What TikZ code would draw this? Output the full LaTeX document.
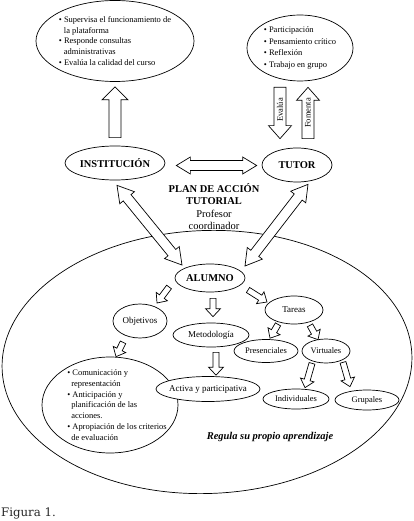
\documentclass[tikz,border=0pt]{standalone}
\usepackage{fontspec}
\setmainfont{Liberation Serif}
\newfontfamily\capfont{DejaVu Serif}
\usetikzlibrary{shapes.geometric,calc,positioning}

\tikzset{
  bubble/.style={ellipse,draw,fill=white,inner xsep=-30bp,inner ysep=-20bp,line width=0.7bp},
  blockarrow/.style={draw,fill=white,line width=0.7bp,line join=miter},
  bigtext/.style={font=\fontsize{10.5}{12.3}\selectfont\bfseries},
  midtext/.style={font=\fontsize{9}{11}\selectfont},
  smalltext/.style={font=\fontsize{8.5}{10.75}\selectfont},
}

% tail, tip, shaft half width, head half width, head length
\newcommand{\fatarrow}[5]{%
  \path (#1) coordinate (fa-tail) (#2) coordinate (fa-tip);
  \path ($(fa-tip)!#5!(fa-tail)$) coordinate (fa-base);
  \draw[blockarrow] ($(fa-tail)!#3!90:(fa-tip)$) -- ($(fa-base)!#3!90:(fa-tip)$)
    -- ($(fa-base)!#4!90:(fa-tip)$) -- (fa-tip) -- ($(fa-base)!#4!-90:(fa-tip)$)
    -- ($(fa-base)!#3!-90:(fa-tip)$) -- ($(fa-tail)!#3!-90:(fa-tip)$) -- cycle;
}
\newcommand{\fatdblarrow}[5]{%
  \path (#1) coordinate (da-a) (#2) coordinate (da-b);
  \path ($(da-a)!#5!(da-b)$) coordinate (da-a2) ($(da-b)!#5!(da-a)$) coordinate (da-b2);
  \draw[blockarrow] (da-a) -- ($(da-a2)!#4!90:(da-b)$) -- ($(da-a2)!#3!90:(da-b)$)
    -- ($(da-b2)!#3!90:(da-b)$) -- ($(da-b2)!#4!90:(da-b)$) -- (da-b)
    -- ($(da-b2)!#4!-90:(da-b)$) -- ($(da-b2)!#3!-90:(da-b)$)
    -- ($(da-a2)!#3!-90:(da-b)$) -- ($(da-a2)!#4!-90:(da-b)$) -- cycle;
}

\begin{document}
\begin{tikzpicture}[x=1bp,y=-1bp]
\useasboundingbox (0,0) rectangle (413,521);

\node[bubble,fill=none,rotate=2,minimum width=410bp,minimum height=263bp] (frame) at (207,362) {};

\node[bubble,smalltext,align=left,minimum width=158bp,minimum height=81bp] (inst-box) at (115,41)
  {\textbullet\ Supervisa el funcionamiento de\\\hspace*{5bp}la plataforma\\\textbullet\ Responde consultas\\\hspace*{5bp}administrativas\\\textbullet\ Evalúa la calidad del curso};
\node[bubble,align=left,minimum width=106bp,minimum height=66bp,font=\fontsize{8.5}{11.7}\selectfont] (tutor-box) at (300,48)
  {\textbullet\ Participación\\\textbullet\ Pensamiento crítico\\\textbullet\ Reflexión\\\textbullet\ Trabajo en grupo};

\node[bubble,bigtext,minimum width=100bp,minimum height=34bp] (inst) at (115,163) {INSTITUCIÓN};
\node[bubble,bigtext,minimum width=70bp,minimum height=34bp] (tutor) at (297,165) {TUTOR};
\node[align=center,font=\fontsize{10.5}{12.3}\selectfont] (plan) at (214,206.5)
  {\textbf{PLAN DE ACCIÓN}\\\textbf{TUTORIAL}\\Profesor\\coordinador};

\node[bubble,bigtext,minimum width=70bp,minimum height=28bp] (alumno) at (210,278) {ALUMNO};
\node[bubble,midtext,minimum width=54bp,minimum height=34bp] (obj) at (140,321) {Objetivos};
\node[bubble,midtext,minimum width=76bp,minimum height=24bp] (met) at (211,335) {Metodología};
\node[bubble,midtext,minimum width=58bp,minimum height=28bp] (tar) at (294,310) {Tareas};
\node[bubble,smalltext,minimum width=64bp,minimum height=23bp] (pres) at (266,351) {Presenciales};
\node[bubble,smalltext,minimum width=48bp,minimum height=24bp] (virt) at (326,351) {Virtuales};
\node[bubble,minimum width=136bp,minimum height=96bp] (obj-box) at (110,405) {};
\node[smalltext,align=left,inner sep=0pt] (obj-list) at ($(obj-box)+(7,0)$)
  {\textbullet\ Comunicación y\\\hspace*{4bp}representación\\\textbullet\ Anticipación y\\\hspace*{4bp}planificación de las\\\hspace*{4bp}acciones.\\\textbullet\ Apropiación de los criterios\\\hspace*{4bp}de evaluación};
\node[bubble,midtext,minimum width=104bp,minimum height=25bp] (act) at (208,389) {Activa y participativa};
\node[bubble,smalltext,minimum width=66bp,minimum height=20bp] (ind) at (296,399) {Individuales};
\node[bubble,smalltext,minimum width=64bp,minimum height=20bp] (grup) at (367,400) {Grupales};

\node[font=\fontsize{10.5}{12}\selectfont\bfseries\itshape] (regula) at (270,437) {Regula su propio aprendizaje};
\node[anchor=base west,inner sep=0pt,text=black!85,font=\capfont\fontsize{11.8}{14}\selectfont] (fig) at (1,516) {Figura 1.};

\fatarrow{$(inst.north)+(0,-8)$}{$(inst-box.south)+(0,5)$}{6bp}{13bp}{13bp}
\fatarrow{$(tutor-box.south)+(-20,6)$}{$(tutor.north)+(-17,-9)$}{6bp}{11.5bp}{13bp}
\fatarrow{$(tutor.north)+(11,-9)$}{$(tutor-box.south)+(8,6)$}{6bp}{11.5bp}{13bp}
\fatdblarrow{$(inst.east)+(11,2.5)$}{$(tutor.west)+(-5,0.5)$}{5bp}{8.5bp}{14bp}
\fatdblarrow{$(inst.south)+(2,5)$}{$(alumno)+(-28,-13)$}{5bp}{9.5bp}{16bp}
\fatdblarrow{$(tutor.south)+(11,2)$}{$(alumno)+(35,-12)$}{5bp}{9.5bp}{16bp}

\fatarrow{$(alumno)+(-41,9)$}{$(obj)+(17,-18)$}{3bp}{7bp}{8bp}
\fatarrow{$(alumno.south)+(3,6)$}{$(met.north)+(2,-6)$}{3bp}{7.5bp}{8bp}
\fatarrow{$(alumno)+(38,12)$}{$(tar)+(-27,-8)$}{3bp}{7bp}{8bp}
\fatarrow{$(tar.south)+(-16,0)$}{$(pres.north)+(4,-1)$}{3bp}{7bp}{8bp}
\fatarrow{$(tar.south)+(16,1)$}{$(virt.north)+(-8,1)$}{3bp}{7bp}{8bp}
\fatarrow{$(met.south)+(5,5)$}{$(act.north)+(8,-1)$}{3bp}{7.5bp}{8bp}
\fatarrow{$(obj.south)+(-17,4)$}{$(obj-box.north)+(6,0)$}{3bp}{7bp}{8bp}
\fatarrow{$(virt.south)+(-14,0)$}{$(ind.north)+(9,-1)$}{3bp}{7bp}{8bp}
\fatarrow{$(virt.south)+(17,-1)$}{$(grup.north)+(-17,-3)$}{3bp}{7bp}{8bp}

\node[smalltext,rotate=90] (evalua) at (280,110) {Evalúa};
\node[smalltext,rotate=90] (fomenta) at (308,113) {Fomenta};
\end{tikzpicture}
\end{document}
